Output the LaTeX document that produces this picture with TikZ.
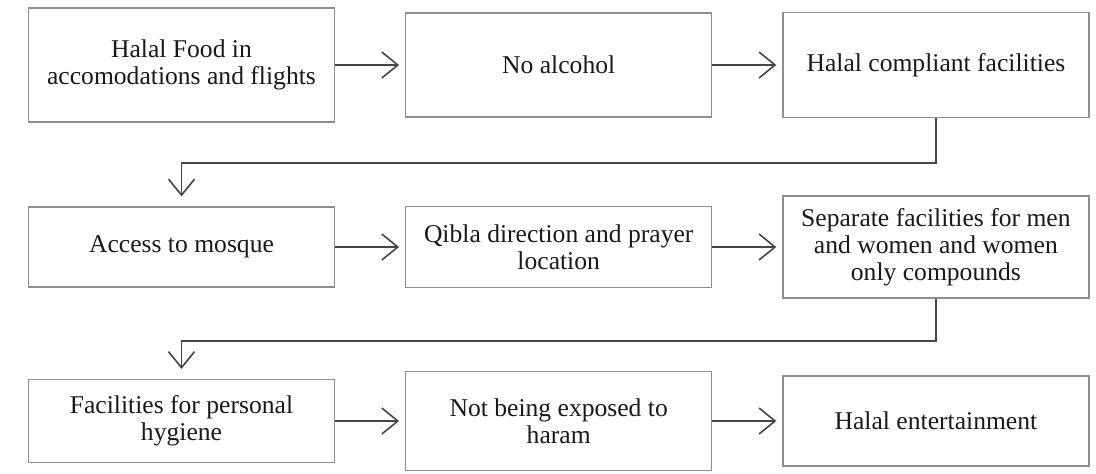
\documentclass[tikz,border=0pt]{standalone}
\usepackage{fontspec}
\setmainfont{Liberation Serif}
\usetikzlibrary{positioning}
\usetikzlibrary{arrows.meta}
\definecolor{boxgray}{HTML}{8E8E8E}
\definecolor{linegray}{HTML}{454545}
\tikzset{node distance=35pt,
         every node/.style={font=\fontsize{12.8}{13.6}\selectfont, text=black!90},
         blk/.style={draw=boxgray, line width=0.6pt, minimum width=153pt, align=center, inner sep=2pt},
         >={Straight Barb[length=8pt,width=13pt,line width=0.8pt]},
         conn/.style={draw=linegray, ->, line width=0.9pt},
         every edge/.style={conn, shorten >=3pt} }

\begin{document}
\begin{tikzpicture}[x=0.5pt,y=-0.5pt]
    \useasboundingbox (0,0) rectangle (1096,473);
    % first row
    \node[blk, minimum height=57pt] (food) at (181.5,65) {Halal Food in\\accomodations and flights};
    \node[blk, minimum height=52pt, right=of food] (alc) {No alcohol};
    \node[blk, minimum height=52.5pt, right=of alc] (fac) {Halal compliant facilities};
    % second row
    \node[blk, minimum height=40pt] (mosq) at (181.5,247) {Access to mosque};
    \node[blk, minimum height=40.5pt, right=of mosq] (qibla) {Qibla direction and prayer\\location};
    \node[blk, minimum height=51pt, right=of qibla] (sep) {Separate facilities for men\\and women and women\\only compounds};
    % third row
    \node[blk, minimum height=41.5pt] (hyg) at (181.5,421) {Facilities for personal\\hygiene};
    \node[blk, minimum height=49.5pt, right=of hyg] (haram) {Not being exposed to\\haram};
    \node[blk, minimum height=45pt, right=of haram] (ent) {Halal entertainment};
    \draw (food) edge (alc);
    \draw (alc) edge (fac);
    \draw[conn, shorten >=5pt] (fac.south) -- ++(0,45) -| (mosq.north);
    \draw (mosq) edge (qibla);
    \draw (qibla) edge (sep);
    \draw[conn, shorten >=5pt] (sep.south) -- ++(0,42) -| (hyg.north);
    \draw (hyg) edge (haram);
    \draw (haram) edge (ent);
\end{tikzpicture}
\end{document}
